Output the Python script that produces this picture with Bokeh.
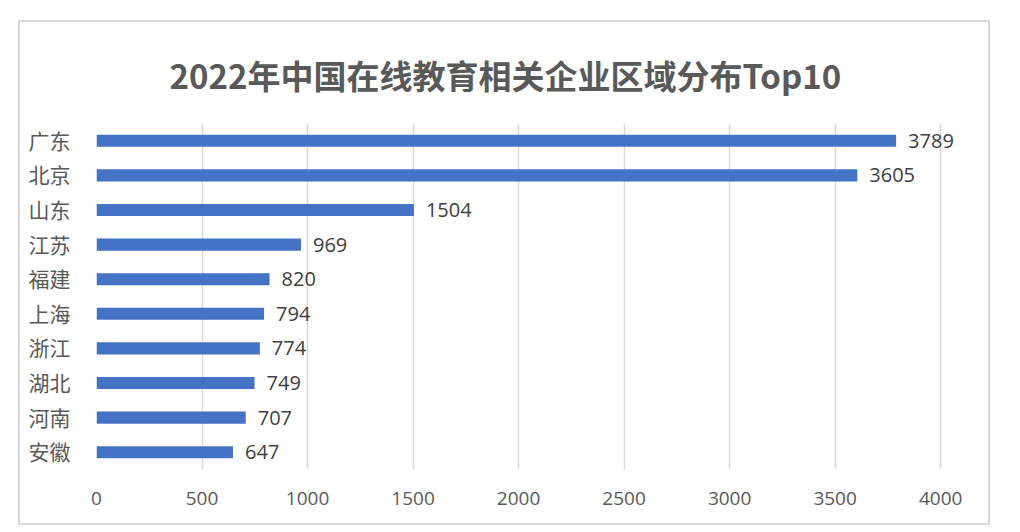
from bokeh.plotting import figure
from bokeh.models import FactorRange, Range1d, ColumnDataSource, FixedTicker
from bokeh.core.properties import value
from bokeh.embed import file_html
from bokeh.resources import INLINE

provinces = ["广东", "北京", "山东", "江苏", "福建", "上海", "浙江", "湖北", "河南", "安徽"]
counts = [3789, 3605, 1504, 969, 820, 794, 774, 749, 707, 647]
x_ticks = [0, 500, 1000, 1500, 2000, 2500, 3000, 3500, 4000]
title_text = "2022年中国在线教育相关企业区域分布Top10"

FONT = "'Open Sans', 'Noto Sans CJK SC', sans-serif"
CJK = "'Noto Sans CJK SC', sans-serif"

src = ColumnDataSource(dict(prov=provinces, cnt=counts, lbl=[str(c) for c in counts]))

p = figure(width=972, height=505, output_backend="svg", toolbar_location=None,
           y_range=FactorRange(*list(reversed(provinces)), range_padding=0),
           x_range=Range1d(0, 4222),
           min_border_left=76, min_border_right=5, min_border_top=101, min_border_bottom=58)
p.margin = (20, 0, 0, 18)
p.styles = {"border": "2px solid #d9d9d9", "box-sizing": "border-box"}

p.title.text = title_text
p.title.align = "left"
p.title.text_font = CJK
p.title.text_font_size = "33px"
p.title.text_font_style = "bold"
p.title.text_color = "#595959"
p.title.offset = 73
p.title.standoff = 50

p.hbar(y="prov", right="cnt", left=0, height=0.35, source=src, color="#4472C4", line_color=None)
p.text(x="cnt", y="prov", text="lbl", source=src, x_offset=12, text_baseline="middle",
       text_align="left", text_font=value(FONT), text_font_size="20px", text_color="#404040")

p.outline_line_color = None
p.ygrid.grid_line_color = None
p.xgrid.grid_line_color = "#d9d9d9"
p.xgrid.grid_line_width = 1.5
p.xaxis.ticker = FixedTicker(ticks=x_ticks)
for ax in (p.xaxis, p.yaxis):
    ax.axis_line_color = None
    ax.major_tick_line_color = None
    ax.minor_tick_line_color = None
    ax.major_label_text_font = FONT
    ax.major_label_text_color = "#595959"
p.xaxis.major_label_text_font_size = "19px"
p.yaxis.major_label_text_font_size = "21px"
p.xaxis.major_label_standoff = 16
p.yaxis.major_label_standoff = 20

open("out.html", "w").write(file_html(p, INLINE))
